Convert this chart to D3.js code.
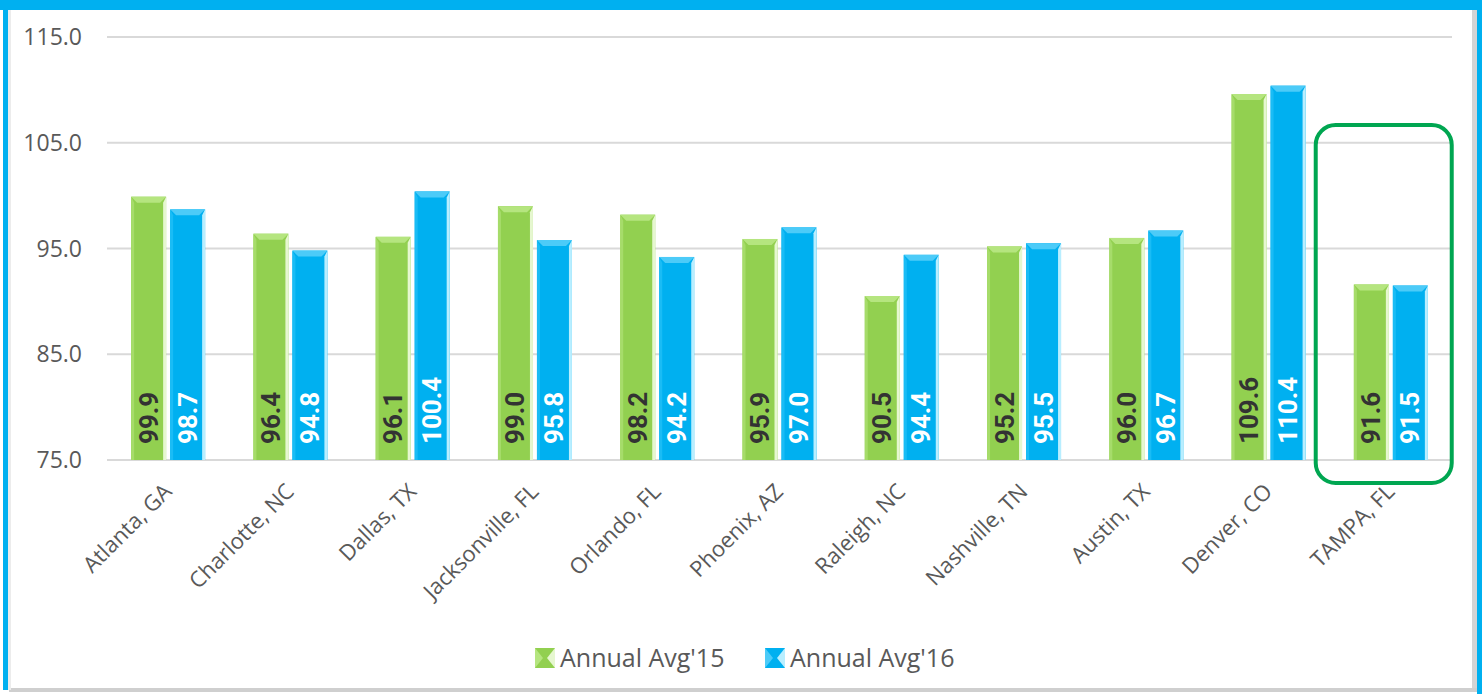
<!DOCTYPE html>
<html>
<head>
<meta charset="utf-8">
<script src="https://cdn.jsdelivr.net/npm/d3@7"></script>
<style>
  body { margin: 0; background: #fff; }
  svg { display: block; }
</style>
</head>
<body>
<div id="chart"></div>
<script>
(function () {

	'use strict';

	var cities = ['Atlanta, GA', 'Charlotte, NC', 'Dallas, TX', 'Jacksonville, FL', 'Orlando, FL',
		'Phoenix, AZ', 'Raleigh, NC', 'Nashville, TN', 'Austin, TX', 'Denver, CO', 'TAMPA, FL'];
	var avg15 = [99.9, 96.4, 96.1, 99.0, 98.2, 95.9, 90.5, 95.2, 96.0, 109.6, 91.6];
	var avg16 = [98.7, 94.8, 100.4, 95.8, 94.2, 97.0, 94.4, 95.5, 96.7, 110.4, 91.5];
	var seriesNames = ["Annual Avg'15", "Annual Avg'16"];
	var yTicks = [75, 85, 95, 105, 115];
	var highlight = 'TAMPA, FL';

	var width = 1482, height = 694;

	var svg = d3.select('#chart')
		.append('svg')
		.attr('width', width)
		.attr('height', height);

	// frame: blue border, white panel with a soft grey shadow
	svg.append('rect').attr('x', 0).attr('y', 0).attr('width', width).attr('height', height).attr('fill', '#fff');
	svg.append('rect').attr('x', 0).attr('y', 0).attr('width', width).attr('height', 10).attr('fill', '#00B0F0');
	svg.append('rect').attr('x', 3).attr('y', 0).attr('width', 5).attr('height', height - 4).attr('fill', '#00B0F0');
	svg.append('rect').attr('x', 1477).attr('y', 0).attr('width', 5).attr('height', height).attr('fill', '#00B0F0');
	svg.append('rect').attr('x', 1472).attr('y', 10).attr('width', 5).attr('height', 680).attr('fill', '#d4d4d4');
	svg.append('rect').attr('x', 9).attr('y', 688).attr('width', 1468).attr('height', 4).attr('fill', '#cfcfcf');
	svg.append('rect').attr('x', 8).attr('y', 10).attr('width', 3).attr('height', 680).attr('fill', '#ececec');

	var x0 = d3.scaleBand()
		.domain(cities)
		.range([107, 1452]);

	var y = d3.scaleLinear()
		.domain([75, 115])
		.range([460, 37]);

	var barW = 35, gap = 4;

	// grid
	svg.append('g')
		.selectAll('line')
		.data(yTicks)
		.enter().append('line')
		.attr('x1', 107)
		.attr('x2', 1452)
		.attr('y1', function (d) { return y(d); })
		.attr('y2', function (d) { return y(d); })
		.attr('stroke', '#d9d9d9')
		.attr('stroke-width', 2);

	// y labels
	svg.append('g')
		.selectAll('text')
		.data(yTicks)
		.enter().append('text')
		.attr('x', 82)
		.attr('y', function (d) { return y(d) + 8; })
		.attr('text-anchor', 'end')
		.attr('font-family', 'Open Sans, sans-serif')
		.attr('font-size', 23)
		.attr('fill', '#595959')
		.text(function (d) { return d.toFixed(1); });

	var colors = [
		{ base: '#92D050', top: '#B5E57F', left: '#A6DC6A', right: '#E6F7D0', text: '#333333' },
		{ base: '#00B0F0', top: '#4CCBF8', left: '#1ABCF5', right: '#B8EEFF', text: '#ffffff' }
	];

	function drawBar(g, xPos, val, c) {
		var top = y(val), bot = y(75), b = 6;
		g.append('rect')
			.attr('x', xPos).attr('y', top)
			.attr('width', barW).attr('height', bot - top)
			.attr('fill', c.base);
		g.append('polygon')
			.attr('points', [[xPos, top], [xPos + barW, top], [xPos + barW - b, top + b], [xPos + b, top + b]].join(' '))
			.attr('fill', c.top);
		g.append('polygon')
			.attr('points', [[xPos, top], [xPos + 3, top + b], [xPos + 3, bot], [xPos, bot]].join(' '))
			.attr('fill', c.left);
		g.append('polygon')
			.attr('points', [[xPos + barW, top], [xPos + barW - 3, top + b], [xPos + barW - 3, bot], [xPos + barW, bot]].join(' '))
			.attr('fill', c.right);
	}

	var bars = svg.append('g');
	cities.forEach(function (city, i) {
		var cx = x0(city) + x0.bandwidth() / 2;
		var xs = [cx - gap / 2 - barW, cx + gap / 2];
		var vals = [avg15[i], avg16[i]];
		vals.forEach(function (v, s) {
			drawBar(bars, xs[s], v, colors[s]);
			bars.append('text')
				.attr('transform', 'translate(' + (xs[s] + barW / 2 + 9) + ',444) rotate(-90)')
				.attr('font-family', 'Roboto, sans-serif')
				.attr('font-weight', 'bold')
				.attr('font-size', 26)
				.attr('fill', colors[s].text)
				.text(v.toFixed(1));
		});
	});

	// x labels
	svg.append('g')
		.selectAll('text')
		.data(cities)
		.enter().append('text')
		.attr('transform', function (d) {
			return 'translate(' + (x0(d) + x0.bandwidth() / 2 + 5) + ',493) rotate(-45)';
		})
		.attr('text-anchor', 'end')
		.attr('font-family', 'Open Sans, sans-serif')
		.attr('font-size', 22)
		.attr('fill', '#595959')
		.text(function (d) { return d; });

	// highlight box
	var hx = x0(highlight);
	svg.append('rect')
		.attr('x', hx - 14)
		.attr('y', 125)
		.attr('width', 136)
		.attr('height', 358)
		.attr('rx', 20)
		.attr('fill', 'none')
		.attr('stroke', '#00A651')
		.attr('stroke-width', 4);

	// legend
	var legend = svg.append('g');
	var lx = [535, 765];
	seriesNames.forEach(function (name, s) {
		var c = colors[s];
		legend.append('rect').attr('x', lx[s]).attr('y', 648).attr('width', 20).attr('height', 20).attr('fill', c.base);
		legend.append('polygon')
			.attr('points', [[lx[s], 648], [lx[s] + 8, 658], [lx[s], 668]].join(' '))
			.attr('fill', c.top);
		legend.append('polygon')
			.attr('points', [[lx[s] + 20, 648], [lx[s] + 12, 658], [lx[s] + 20, 668]].join(' '))
			.attr('fill', c.right);
		legend.append('text')
			.attr('x', lx[s] + 25)
			.attr('y', 667)
			.attr('font-family', 'Open Sans, sans-serif')
			.attr('font-size', 25)
			.attr('fill', '#595959')
			.text(name);
	});

})();
</script>
</body>
</html>
